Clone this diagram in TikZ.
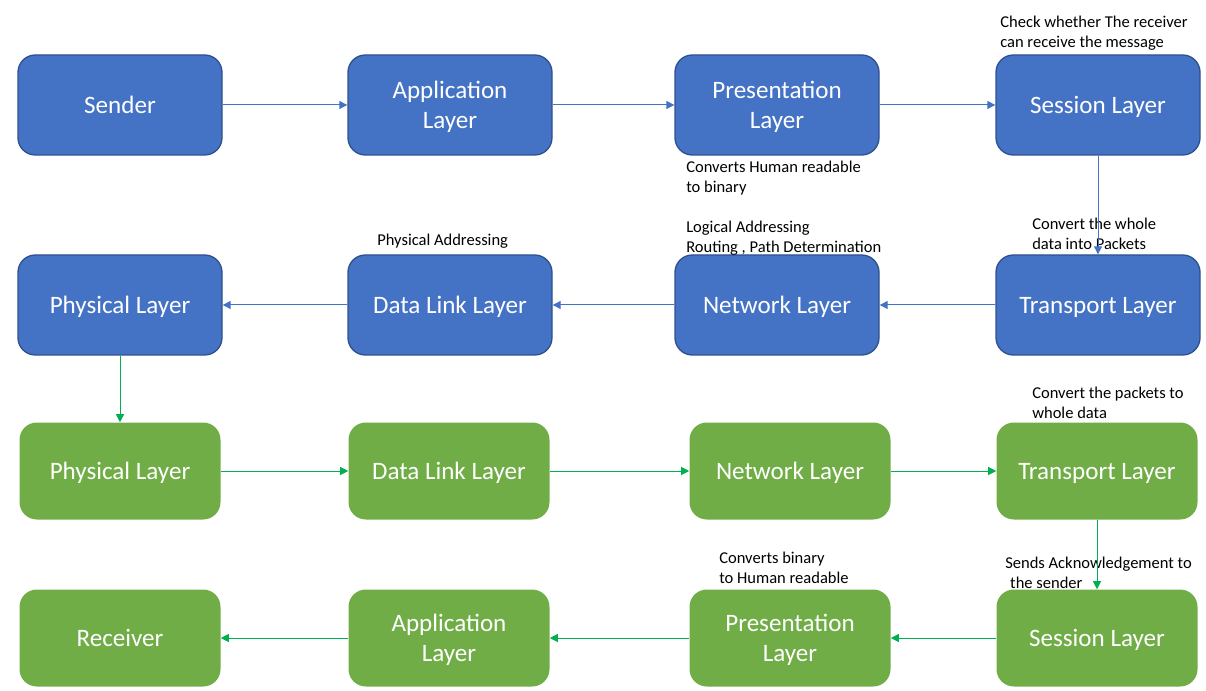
\documentclass[tikz,border=0pt]{standalone}
\usepackage{fontspec}
\setmainfont{Carlito}
\usetikzlibrary{arrows.meta}
\definecolor{boxblue}{HTML}{4472C4}
\definecolor{edgeblue}{HTML}{2F528F}
\definecolor{boxgreen}{HTML}{70AD47}
\definecolor{arrgreen}{HTML}{00B050}
\begin{document}
\begin{tikzpicture}[x=0.75pt,y=-0.75pt,
  bluebox/.style={draw=edgeblue,line width=1pt,fill=boxblue,rounded corners=13pt,
    minimum width=153pt,minimum height=75pt,text=white,align=center,text depth=0pt,
    font=\fontsize{18.8}{22.5}\selectfont},
  greenbox/.style={fill=boxgreen,rounded corners=13pt,
    minimum width=150.75pt,minimum height=72.75pt,text=white,align=center,text depth=0pt,
    font=\fontsize{18.8}{22.5}\selectfont},
  note/.style={anchor=west,inner sep=0pt,align=left,font=\fontsize{12.4}{15}\selectfont},
  bluearr/.style={draw=boxblue,line width=0.75pt,-{Triangle[length=6pt,width=6pt]}},
  greenarr/.style={draw=arrgreen,line width=0.75pt,-{Triangle[length=6pt,width=6pt]}}]
  \useasboundingbox (0,0) rectangle (1206,691);
  % Sending side
  \node[bluebox] (snd)  at (120,105)  {Sender};
  \node[bluebox] (appS) at (450,105)  {Application\\Layer};
  \node[bluebox] (preS) at (777,105)  {Presentation\\Layer};
  \node[bluebox] (sesS) at (1098,105) {Session Layer};
  \node[bluebox] (phyS) at (120,305)  {Physical Layer};
  \node[bluebox] (dllS) at (450,305)  {Data Link Layer};
  \node[bluebox] (netS) at (777,305)  {Network Layer};
  \node[bluebox] (traS) at (1098,305) {Transport Layer};
  % Receiving side
  \node[greenbox] (phyR) at (120,471)  {Physical Layer};
  \node[greenbox] (dllR) at (449,471)  {Data Link Layer};
  \node[greenbox] (netR) at (790,471)  {Network Layer};
  \node[greenbox] (traR) at (1097,471) {Transport Layer};
  \node[greenbox] (rcv)  at (120,638)  {Receiver};
  \node[greenbox] (appR) at (449,638)  {Application\\Layer};
  \node[greenbox] (preR) at (790,638)  {Presentation\\Layer};
  \node[greenbox] (sesR) at (1097,638) {Session Layer};
  % Notes
  \node[note] (nSes)  at (1000,33)  {Check whether The receiver\\can receive the message};
  \node[note] (nPre)  at (686,178)  {Converts Human readable\\to binary};
  \node[note] (nNet)  at (686,238)  {Logical Addressing\\Routing , Path Determination};
  \node[note] (nTra)  at (1032,234) {Convert the whole\\data into Packets};
  \node[note] (nDll)  at (377,241)  {Physical Addressing};
  \node[note] (nTraR) at (1032,403) {Convert the packets to\\whole data};
  \node[note] (nPreR) at (719,568)  {Converts binary\\to Human readable};
  \node[note] (nSesR) at (1005,573) {Sends Acknowledgement to\\\hspace{0.3em}the sender};
  % Arrows
  \draw[bluearr] (snd) -- (appS);
  \draw[bluearr] (appS) -- (preS);
  \draw[bluearr] (preS) -- (sesS);
  \draw[bluearr] (sesS) -- (traS);
  \draw[bluearr] (traS) -- (netS);
  \draw[bluearr] (netS) -- (dllS);
  \draw[bluearr] (dllS) -- (phyS);
  \draw[greenarr] (phyS) -- (phyR);
  \draw[greenarr] (phyR) -- (dllR);
  \draw[greenarr] (dllR) -- (netR);
  \draw[greenarr] (netR) -- (traR);
  \draw[greenarr] (traR) -- (sesR);
  \draw[greenarr] (sesR) -- (preR);
  \draw[greenarr] (preR) -- (appR);
  \draw[greenarr] (appR) -- (rcv);
\end{tikzpicture}
\end{document}
